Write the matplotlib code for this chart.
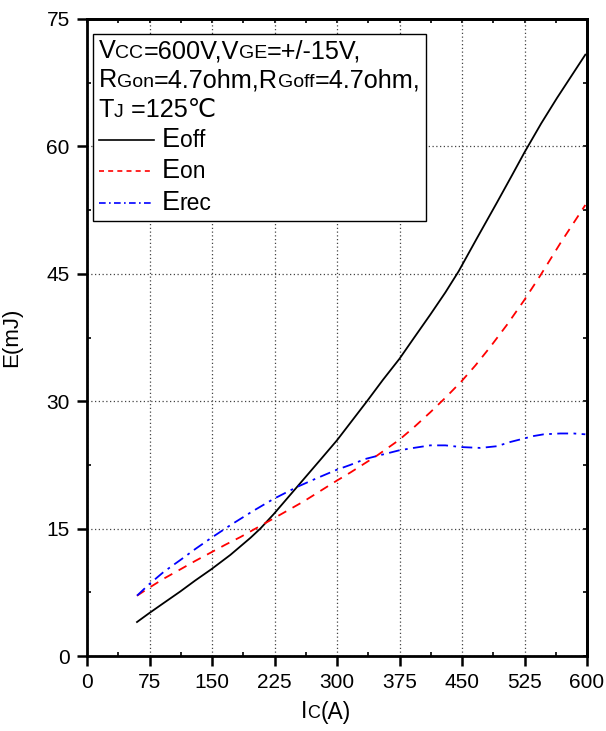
import matplotlib
matplotlib.use("Agg")
import matplotlib.pyplot as plt
from matplotlib.offsetbox import TextArea, HPacker, VPacker, DrawingArea, AnchoredOffsetbox
from matplotlib.lines import Line2D
from matplotlib.ticker import MultipleLocator

plt.rcParams['font.family'] = ['Liberation Sans', 'DejaVu Sans']

# Data
ic_off = [60, 74, 90, 112, 130, 149, 172, 196, 208, 224, 252, 280, 300, 318, 336,
          355, 375, 392, 412, 430, 446, 468, 492, 510, 525, 545, 564, 582, 598]
e_off = [4.0, 5.0, 6.1, 7.6, 8.9, 10.2, 11.9, 13.9, 15.0, 16.7, 19.9, 23.1, 25.4, 27.7, 30.0,
         32.5, 35.0, 37.4, 40.2, 42.8, 45.3, 49.2, 53.4, 56.6, 59.3, 62.7, 65.7, 68.4, 70.8]

ic_on = [60, 74, 92, 112, 130, 149, 166, 184, 204, 224, 260, 299, 316, 348, 374,
         392, 412, 430, 449, 466, 484, 504, 524, 544, 556, 568, 584, 598]
e_on = [7.1, 8.0, 9.1, 10.2, 11.2, 12.2, 13.1, 14.0, 15.1, 16.2, 18.2, 20.6, 21.6, 23.6, 25.4,
        26.9, 28.7, 30.4, 32.3, 34.2, 36.4, 39.0, 41.8, 44.8, 46.7, 48.6, 51.0, 53.1]

ic_rec = [60, 74, 92, 112, 130, 149, 172, 198, 224, 252, 275, 299, 316, 334, 354,
          374, 392, 412, 430, 449, 472, 492, 508, 524, 536, 548, 568, 584, 598]
e_rec = [7.1, 8.4, 9.9, 11.3, 12.6, 13.9, 15.4, 17.0, 18.5, 19.9, 20.9, 21.9, 22.5, 23.2, 23.7,
         24.2, 24.5, 24.8, 24.8, 24.6, 24.5, 24.7, 25.2, 25.6, 25.9, 26.1, 26.2, 26.2, 26.1]

x_ticks = [0, 75, 150, 225, 300, 375, 450, 525, 600]
y_ticks = [0, 15, 30, 45, 60, 75]

fig = plt.figure(figsize=(6.06, 7.31), dpi=100)
ax = fig.add_axes([87/606, 1 - 656/731, 500/606, (656 - 19)/731])

ax.plot(ic_off, e_off, color='black', lw=1.3, ls='-')
ax.plot(ic_on, e_on, color='#ff0000', lw=1.3, ls=(0, (5, 4)))
ax.plot(ic_rec, e_rec, color='#0000ff', lw=1.3, ls=(0, (6, 3, 1.5, 3)))

ax.set_xlim(0, 600)
ax.set_ylim(0, 75)
ax.set_xticks(x_ticks)
ax.set_yticks(y_ticks)
ax.xaxis.set_minor_locator(MultipleLocator(37.5))
ax.yaxis.set_minor_locator(MultipleLocator(7.5))
ax.grid(True, which='major', ls=(0, (1, 2)), color='#444444', lw=0.9)

for s in ax.spines.values():
    s.set_linewidth(2.0)

ax.tick_params(which='major', direction='out', length=7.5, width=1.8, labelsize=15, pad=5)
ax.tick_params(which='minor', direction='in', length=3, width=1.2)

secx = ax.secondary_xaxis('top')
secx.set_xticks(x_ticks)
secx.xaxis.set_minor_locator(MultipleLocator(37.5))
secx.tick_params(which='both', direction='in', length=3, width=1.2, labeltop=False)
secx.spines['top'].set_linewidth(2.0)
secy = ax.secondary_yaxis('right')
secy.set_yticks(y_ticks)
secy.yaxis.set_minor_locator(MultipleLocator(7.5))
secy.tick_params(which='both', direction='in', length=3, width=1.2, labelright=False)
secy.spines['right'].set_linewidth(2.0)

ax.set_ylabel('E(mJ)', fontsize=16)
ax.yaxis.set_label_coords(-0.13, 0.5)

BIG = 18.2
SMALL = 14
EBIG = 19.5
ESMALL = 16.5

def row(pieces):
    return HPacker(children=[TextArea(t, textprops=dict(size=s)) for t, s in pieces],
                   align='baseline', pad=0, sep=0)

def leg_row(style, color, pieces):
    da = DrawingArea(40, 10, 0, 0)
    da.add_artist(Line2D([0, 40], [5.0, 5.0], color=color, lw=1.2, ls=style))
    return HPacker(children=[da, row(pieces)], align='baseline', pad=0, sep=5.5)

rows = [
    row([("V", BIG), ("CC", SMALL), ("=600V,V", BIG), ("GE", SMALL), ("=+/-15V,", BIG)]),
    row([("R", BIG), ("Gon", SMALL), ("=4.7ohm,R", BIG), ("Goff", SMALL), ("=4.7ohm,", BIG)]),
    row([("T", BIG), ("J", SMALL), (" =125℃", BIG)]),
    leg_row('-', 'black', [("E", EBIG), ("off", ESMALL)]),
    leg_row((0, (3, 2.5)), '#ff0000', [("E", EBIG), ("on", ESMALL)]),
    leg_row((0, (4, 2, 1, 2)), '#0000ff', [("E", EBIG), ("rec", ESMALL)]),
]
vp = VPacker(children=rows, align='left', pad=0, sep=3.8)
box = AnchoredOffsetbox(loc='upper left', child=vp, pad=0.4, borderpad=0,
                        frameon=True, bbox_to_anchor=(0.012, 0.977),
                        bbox_transform=ax.transAxes, prop=dict(size=10))
box.patch.set_edgecolor('black')
box.patch.set_linewidth(1.0)
box.patch.set_boxstyle('square', pad=0)
ax.add_artist(box)

xl = HPacker(children=[TextArea("I", textprops=dict(size=16.5)),
                       TextArea("C", textprops=dict(size=13)),
                       TextArea("(A)", textprops=dict(size=16.5))],
             align='baseline', pad=0, sep=0)
xlab = AnchoredOffsetbox(loc='center', child=xl, pad=0, borderpad=0, frameon=False,
                         bbox_to_anchor=(326/606, 1 - 712/731), bbox_transform=fig.transFigure)
fig.add_artist(xlab)

fig.savefig('out.png', dpi=100)
